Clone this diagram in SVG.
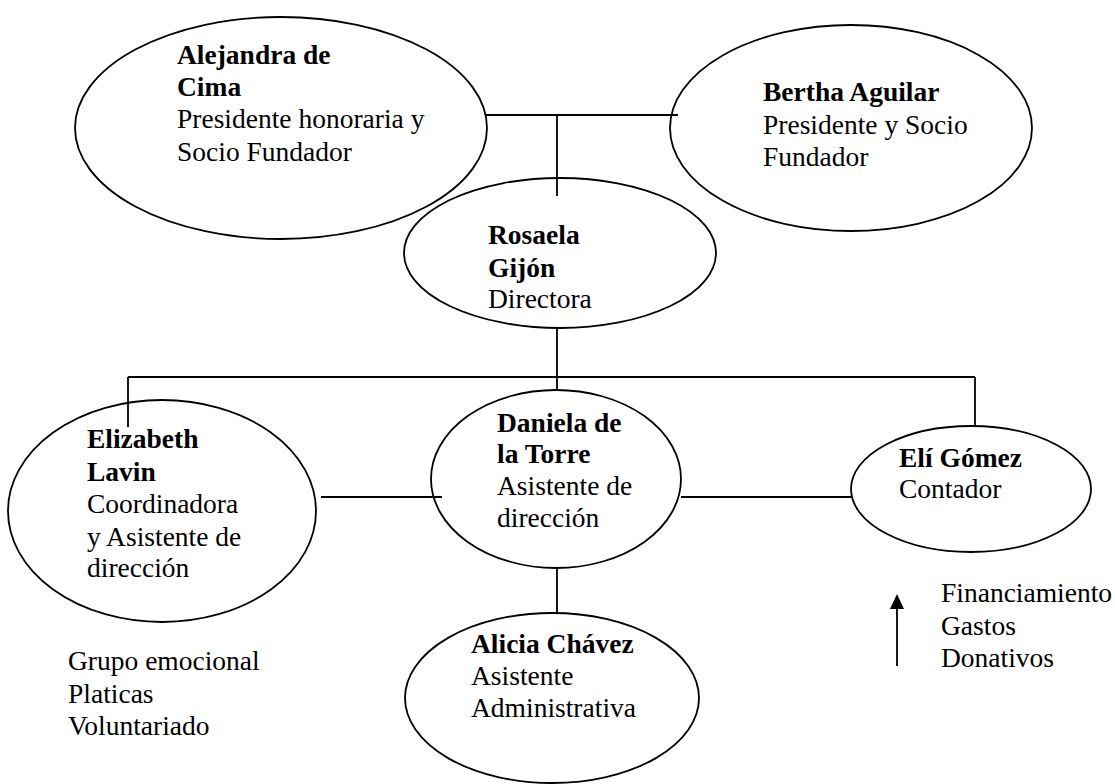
<svg xmlns="http://www.w3.org/2000/svg" width="1115" height="784" viewBox="0 0 1115 784">
<style>
.n{fill:none;stroke:#000;stroke-width:1.8}
.c line{stroke:#000;stroke-width:1.8}
text{font-family:"Liberation Serif","Times New Roman",serif;font-size:27.5px;fill:#000}
.b{font-weight:bold}
</style>
<rect width="1115" height="784" fill="#fff"/>
<g id="alejandra">
<ellipse class="n" cx="281" cy="128" rx="206" ry="111"/>
<text x="177" y="64" class="b">Alejandra de</text>
<text x="177" y="96" class="b">Cima</text>
<text x="177" y="128">Presidente honoraria y</text>
<text x="177" y="161">Socio Fundador</text>
</g>
<g id="bertha">
<ellipse class="n" cx="851" cy="128" rx="181" ry="103"/>
<text x="763" y="101" class="b">Bertha Aguilar</text>
<text x="763" y="134">Presidente y Socio</text>
<text x="763" y="166">Fundador</text>
</g>
<g id="rosaela">
<ellipse class="n" cx="560" cy="253" rx="156" ry="75"/>
<text x="488" y="244" class="b">Rosaela</text>
<text x="488" y="277" class="b">Gijón</text>
<text x="488" y="308">Directora</text>
</g>
<g id="elizabeth">
<ellipse class="n" cx="162" cy="511" rx="154" ry="111"/>
<text x="87" y="448" class="b">Elizabeth</text>
<text x="87" y="481" class="b">Lavin</text>
<text x="87" y="513">Coordinadora</text>
<text x="87" y="546">y Asistente de</text>
<text x="87" y="577">dirección</text>
</g>
<g id="daniela">
<ellipse class="n" cx="556" cy="479" rx="125" ry="89"/>
<text x="497" y="432" class="b">Daniela de</text>
<text x="497" y="463" class="b">la Torre</text>
<text x="497" y="495">Asistente de</text>
<text x="497" y="527">dirección</text>
</g>
<g id="eli">
<ellipse class="n" cx="971" cy="489" rx="120" ry="63"/>
<text x="899" y="467" class="b">Elí Gómez</text>
<text x="899" y="498">Contador</text>
</g>
<g id="alicia">
<ellipse class="n" cx="552" cy="698" rx="147" ry="85"/>
<text x="471" y="653" class="b">Alicia Chávez</text>
<text x="471" y="685">Asistente</text>
<text x="471" y="717">Administrativa</text>
</g>
<g class="c" id="connectors">
<line x1="485" y1="115" x2="678" y2="115"/>
<line x1="557" y1="115" x2="557" y2="196"/>
<line x1="557" y1="328" x2="557" y2="390"/>
<line x1="128" y1="377" x2="975" y2="377"/>
<line x1="128" y1="377" x2="128" y2="427"/>
<line x1="975" y1="377" x2="975" y2="427"/>
<line x1="321" y1="497" x2="442" y2="497"/>
<line x1="681" y1="497" x2="851" y2="497"/>
<line x1="557" y1="568" x2="557" y2="613"/>
</g>
<g id="arrow">
<line x1="897" y1="666" x2="897" y2="607" stroke="#000" stroke-width="1.8"/>
<path d="M897,594 L890,609 L904,609 Z" fill="#000"/>
</g>
<g id="notes">
<text x="941" y="602">Financiamiento</text>
<text x="941" y="635">Gastos</text>
<text x="941" y="667">Donativos</text>
<text x="68" y="670">Grupo emocional</text>
<text x="68" y="703">Platicas</text>
<text x="68" y="735">Voluntariado</text>
</g>
</svg>
